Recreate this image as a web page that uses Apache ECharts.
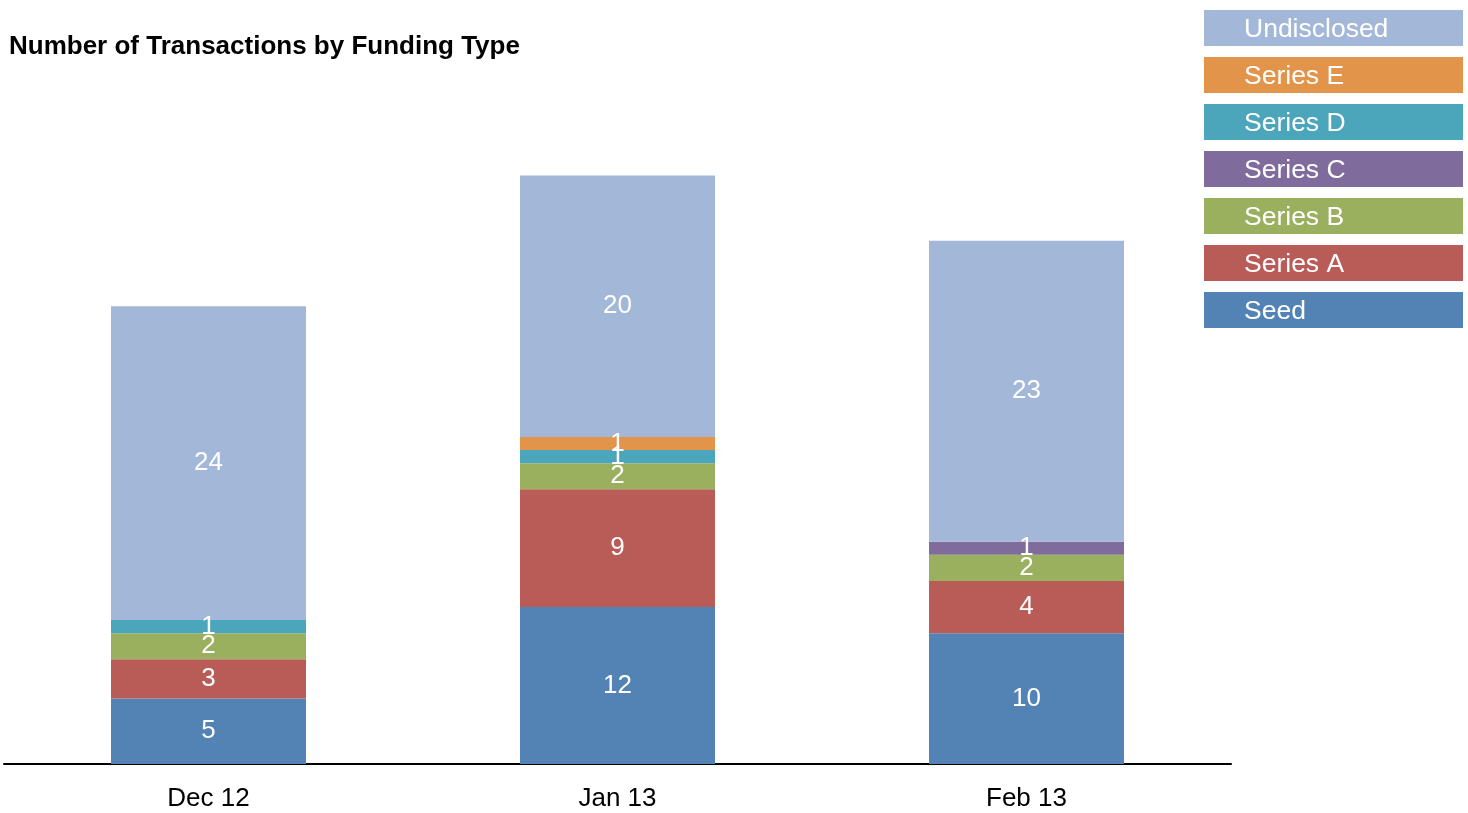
<!DOCTYPE html>
<html>
<head>
<meta charset="utf-8">
<script src="https://cdn.jsdelivr.net/npm/echarts@6/dist/echarts.min.js"></script>
<style>html,body{margin:0;padding:0;background:#fff}#c{width:1468px;height:813px}</style>
</head>
<body>
<div id="c"></div>
<script>
const categories = ['Dec 12', 'Jan 13', 'Feb 13'];
const seriesNames = ['Seed', 'Series A', 'Series B', 'Series C', 'Series D', 'Series E', 'Undisclosed'];
const seed = [5, 12, 10];
const seriesA = [3, 9, 4];
const seriesB = [2, 2, 2];
const seriesC = [0, 0, 1];
const seriesD = [1, 1, 0];
const seriesE = [0, 1, 0];
const undisclosed = [24, 20, 23];
const colors = ['#5383b5', '#b95b57', '#9bb05e', '#7f6b9c', '#4ca6bb', '#e3944b', '#a3b7d9'];

const values = [seed, seriesA, seriesB, seriesC, seriesD, seriesE, undisclosed];
const font = 'Liberation Sans, Arial, sans-serif';

const rich = {};
seriesNames.forEach((n, i) => {
  rich['i' + i] = {
    backgroundColor: colors[i],
    color: '#fff',
    fontSize: 26.5,
    fontFamily: font,
    width: 219,
    height: 33,
    lineHeight: 33,
    padding: [3, 0, 0, 40]
  };
});

const chart = echarts.init(document.getElementById('c'));
chart.setOption({
  animation: false,
  title: {
    text: 'Number of Transactions by Funding Type',
    left: 9, top: 34, padding: 0,
    textStyle: { fontFamily: 'Liberation Sans Narrow, Arial Narrow, Liberation Sans, sans-serif', fontWeight: 'bold', fontSize: 26, color: '#000' }
  },
  legend: {
    orient: 'vertical',
    left: 1194, top: 5,
    itemWidth: 0, itemHeight: 0,
    icon: 'rect',
    itemGap: 11,
    selectedMode: false,
    data: seriesNames.slice().reverse(),
    formatter: name => '{i' + seriesNames.indexOf(name) + '|' + name + '}',
    textStyle: { rich: rich }
  },
  grid: { left: 4, width: 1227, top: 110, height: 654 },
  xAxis: {
    type: 'category',
    data: categories,
    axisLine: { lineStyle: { color: '#000', width: 2 } },
    axisTick: { show: false },
    axisLabel: { color: '#000', fontSize: 26, fontFamily: font, margin: 22 }
  },
  yAxis: { type: 'value', min: 0, max: 50, show: false, splitLine: { show: false } },
  series: seriesNames.map((n, i) => ({
    name: n,
    type: 'bar',
    stack: 'total',
    barWidth: 195,
    data: values[i],
    itemStyle: { color: colors[i] },
    label: {
      show: true,
      position: 'inside',
      color: '#fff',
      fontSize: 26,
      fontFamily: font,
      formatter: p => (p.value ? String(p.value) : '')
    }
  }))
});
</script>
</body>
</html>
